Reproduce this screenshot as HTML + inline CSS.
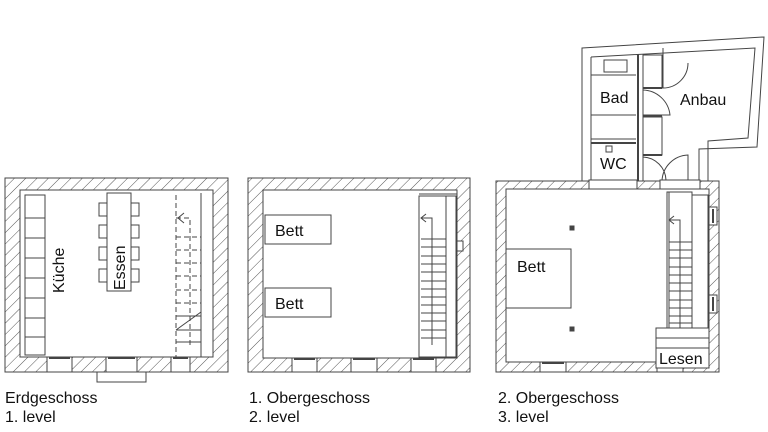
<!DOCTYPE html>
<html><head><meta charset="utf-8"><style>
html,body{margin:0;padding:0;background:#fff;width:768px;height:432px;overflow:hidden}
svg{display:block}
text{font-family:"Liberation Sans",sans-serif;fill:#111}
</style></head><body>
<svg width="768" height="432" viewBox="0 0 768 432" xmlns="http://www.w3.org/2000/svg">
<defs>
<pattern id="h" width="8" height="8" patternUnits="userSpaceOnUse" patternTransform="rotate(45)">
<rect width="8" height="8" fill="#fff"/><line x1="0" y1="0" x2="0" y2="8" stroke="#555" stroke-width="1"/>
</pattern>
</defs>
<g stroke="#444" stroke-width="1" fill="none">

<!-- PLAN 1 -->
<rect x="5" y="178" width="223" height="194" fill="url(#h)"/>
<rect x="20" y="190" width="193" height="167" fill="#fff"/>
<rect x="47" y="357" width="25" height="15" fill="#fff"/><line x1="49" y1="358" x2="70" y2="358" stroke-width="2"/>
<rect x="106" y="357" width="31" height="15" fill="#fff"/><line x1="108" y1="358" x2="135" y2="358" stroke-width="2"/>
<rect x="171" y="357" width="19" height="15" fill="#fff"/><line x1="173" y1="358" x2="188" y2="358" stroke-width="2"/>
<rect x="97" y="372" width="49" height="10" fill="#fff"/>
<rect x="25" y="195" width="20" height="160" fill="#fff"/>
<path d="M25 218H45M25 238H45M25 258H45M25 278H45M25 298H45M25 318H45M25 337H45"/>
<rect x="107" y="193" width="24" height="98" fill="#fff"/>
<rect x="99" y="203" width="8" height="13"/><rect x="99" y="225" width="8" height="13"/><rect x="99" y="247" width="8" height="13"/><rect x="99" y="269" width="8" height="13"/>
<rect x="131" y="203" width="8" height="13"/><rect x="131" y="225" width="8" height="13"/><rect x="131" y="247" width="8" height="13"/><rect x="131" y="269" width="8" height="13"/>
<line x1="201" y1="193" x2="201" y2="357"/>
<g stroke-dasharray="5,3">
<line x1="176" y1="195" x2="176" y2="357"/>
<path d="M176 218H190V345"/>
<path d="M176 237H201M176 250H201M176 263H201M176 276H201M176 290H201M176 303H201"/>
</g>
<path d="M176 316H201M176 330H201M176 342H201M176 330L201 312"/>
<path d="M184 213L178 218L184 223"/>

<!-- PLAN 2 -->
<rect x="248" y="178" width="222" height="194" fill="url(#h)"/>
<rect x="263" y="190" width="194" height="168" fill="#fff"/>
<rect x="292" y="358" width="25" height="14" fill="#fff"/><line x1="294" y1="359" x2="315" y2="359" stroke-width="2"/>
<rect x="351" y="358" width="26" height="14" fill="#fff"/><line x1="353" y1="359" x2="375" y2="359" stroke-width="2"/>
<rect x="411" y="358" width="25" height="14" fill="#fff"/><line x1="413" y1="359" x2="434" y2="359" stroke-width="2"/>
<rect x="265" y="215" width="66" height="29" fill="#fff"/>
<rect x="265" y="288" width="66" height="29" fill="#fff"/>
<rect x="419" y="196" width="27" height="161"/>
<rect x="446" y="196" width="10" height="161"/>
<line x1="419" y1="194" x2="457" y2="194"/>
<rect x="457" y="241" width="6" height="10" fill="#fff"/>
<path d="M421 218H432V345"/>
<path d="M426 214L421 218L426 222"/>
<path d="M421 239H446M421 247H446M421 256H446M421 264H446M421 272H446M421 281H446M421 289H446M421 297H446M421 305H446M421 313H446M421 321H446M421 330H446M421 338H446"/>

<!-- ANBAU -->
<path d="M582 48L764 37L757 147L699 149L699 181L582 181Z" fill="#fff"/>
<path d="M591 57L755 48L748 138L708 141V181M591 57V181"/>
<line x1="638" y1="54" x2="638" y2="181" stroke-width="2"/>
<line x1="643" y1="54" x2="643" y2="181"/>
<rect x="604" y="60" width="23" height="12"/>
<line x1="591" y1="75" x2="636" y2="75"/>
<line x1="591" y1="115" x2="636" y2="115"/>
<line x1="591" y1="139" x2="636" y2="139"/>
<line x1="591" y1="143" x2="636" y2="143" stroke-width="2"/>
<rect x="606" y="146" width="6" height="6"/>
<rect x="643" y="55" width="19" height="33"/>
<rect x="643" y="117" width="19" height="38"/>
<line x1="643" y1="88" x2="662" y2="88" stroke-width="2"/>
<line x1="643" y1="116" x2="662" y2="116" stroke-width="2"/>
<line x1="643" y1="155" x2="662" y2="155" stroke-width="2"/>
<path d="M663 48V88A25 25 0 0 0 688 63"/>
<path d="M643 90A28 28 0 0 1 670 115H643"/>
<path d="M643 157A24 24 0 0 1 666 180"/>
<path d="M662 181A27 27 0 0 1 688 155V181"/>

<!-- PLAN 3 -->
<rect x="496" y="181" width="223" height="191" fill="url(#h)"/>
<rect x="506" y="189" width="203" height="173" fill="#fff"/>
<rect x="660" y="180" width="40" height="9" fill="#fff"/>
<rect x="589" y="180" width="48" height="9" fill="#fff"/>
<rect x="540" y="362" width="26" height="10" fill="#fff"/><line x1="542" y1="363" x2="564" y2="363" stroke-width="2"/>
<rect x="657" y="362" width="26" height="10" fill="#fff"/><line x1="659" y1="363" x2="681" y2="363" stroke-width="2"/>
<rect x="709" y="207" width="8" height="18" fill="#fff"/><line x1="713" y1="209" x2="713" y2="223" stroke-width="2"/>
<rect x="709" y="295" width="8" height="18" fill="#fff"/><line x1="713" y1="297" x2="713" y2="311" stroke-width="2"/>
<rect x="506" y="249" width="65" height="59" fill="#fff"/>
<rect x="570" y="226" width="4" height="4" fill="#444"/>
<rect x="570" y="327" width="4" height="4" fill="#444"/>
<rect x="667" y="192" width="25" height="136"/>
<line x1="669" y1="192" x2="669" y2="328"/>
<rect x="692" y="195" width="16" height="133"/>
<path d="M670 220H680V328"/>
<path d="M674 216L669 220L674 224"/>
<path d="M669 242H692M669 250H692M669 258H692M669 267H692M669 275H692M669 283H692M669 291H692M669 300H692M669 308H692M669 316H692M669 323H692"/>
<rect x="656" y="328" width="53" height="40" fill="#fff"/>
<line x1="656" y1="338" x2="709" y2="338"/>
<line x1="656" y1="348" x2="709" y2="348"/>
</g>

<g font-size="16">
<text x="0" y="0" transform="translate(64,293) rotate(-90)">Küche</text>
<text x="0" y="0" transform="translate(125,290) rotate(-90)">Essen</text>
<text x="275" y="236">Bett</text>
<text x="275" y="309">Bett</text>
<text x="517" y="272">Bett</text>
<text x="600" y="103">Bad</text>
<text x="680" y="105">Anbau</text>
<text x="600" y="169">WC</text>
<text x="659" y="364">Lesen</text>
</g>
<g font-size="16">
<text x="5" y="403">Erdgeschoss</text>
<text x="5" y="422">1. level</text>
<text x="249" y="403">1. Obergeschoss</text>
<text x="249" y="422">2. level</text>
<text x="498" y="403">2. Obergeschoss</text>
<text x="498" y="422">3. level</text>
</g>
</svg>
</body></html>
